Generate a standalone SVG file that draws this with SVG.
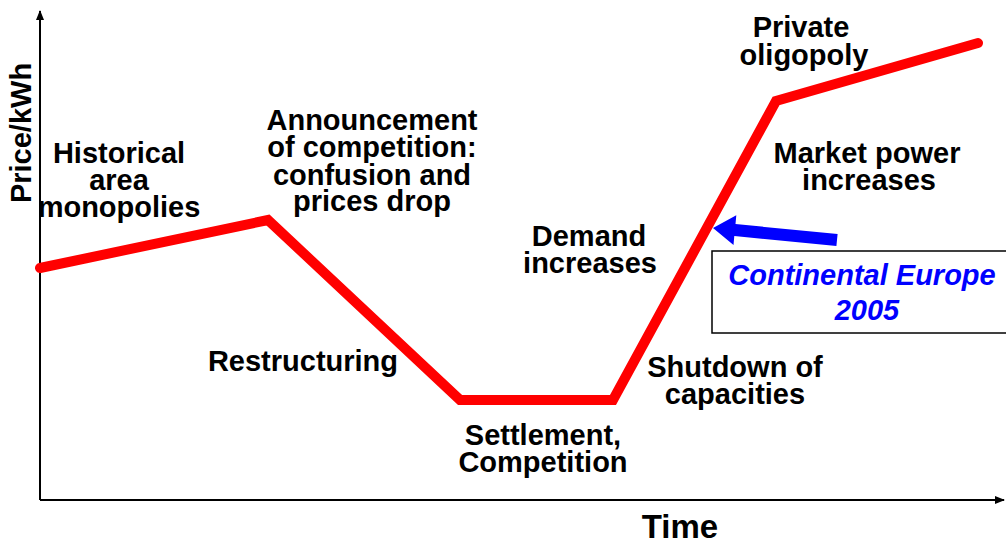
<svg xmlns="http://www.w3.org/2000/svg" width="1006" height="542" viewBox="0 0 1006 542">
<style>
.lbl{font-family:"Liberation Sans",Arial,sans-serif;font-weight:bold;font-size:29px;fill:#000;text-anchor:middle}
.blue{fill:#0000FF;font-style:italic}
</style>
<defs>
<marker id="ah" markerWidth="10" markerHeight="8" refX="9" refY="4" orient="auto" markerUnits="userSpaceOnUse">
<path d="M0,0 L10,4 L0,8 Z" fill="#000"/>
</marker>
</defs>
<rect width="1006" height="542" fill="#fff"/>
<g id="axes">
<line x1="40" y1="500" x2="40" y2="11" stroke="#000" stroke-width="2" marker-end="url(#ah)"/>
<line x1="40" y1="500" x2="1004" y2="500" stroke="#000" stroke-width="2" marker-end="url(#ah)"/>
<text class="lbl" transform="translate(31,133) rotate(-90)">Price/kWh</text>
<text class="lbl" x="680" y="538" style="font-size:33px">Time</text>
</g>
<g id="connectors">
<polyline points="40,268 268,220 460,400 613,400 776,101 978,43" fill="none" stroke="#FF0000" stroke-width="10" stroke-linecap="round" stroke-linejoin="miter"/>
<polygon points="837.6,234 735.5,224.1 736.3,215.2 713,228 733.5,245 734.3,236.1 836.4,246" fill="#0000FF"/>
</g>
<g id="historical">
<text class="lbl" x="119" y="163">Historical</text>
<text class="lbl" x="119" y="190">area</text>
<text class="lbl" x="119" y="217">monopolies</text>
</g>
<g id="announcement">
<text class="lbl" x="372" y="130">Announcement</text>
<text class="lbl" x="372" y="157">of competition:</text>
<text class="lbl" x="372" y="185">confusion and</text>
<text class="lbl" x="372" y="211">prices drop</text>
</g>
<g id="restructuring">
<text class="lbl" x="303" y="371">Restructuring</text>
</g>
<g id="settlement">
<text class="lbl" x="543" y="445">Settlement,</text>
<text class="lbl" x="543" y="472">Competition</text>
</g>
<g id="demand">
<text class="lbl" x="589" y="246">Demand</text>
<text class="lbl" x="590" y="273">increases</text>
</g>
<g id="shutdown">
<text class="lbl" x="735" y="377">Shutdown of</text>
<text class="lbl" x="735" y="404">capacities</text>
</g>
<g id="private">
<text class="lbl" x="801" y="37">Private</text>
<text class="lbl" x="804" y="65">oligopoly</text>
</g>
<g id="market">
<text class="lbl" x="867" y="163">Market power</text>
<text class="lbl" x="869" y="190">increases</text>
</g>
<g id="continental">
<rect x="712" y="251" width="300" height="82" fill="#fff" stroke="#000" stroke-width="1.5"/>
<text class="lbl blue" x="862" y="285">Continental Europe</text>
<text class="lbl blue" x="867" y="320">2005</text>
</g>
</svg>
